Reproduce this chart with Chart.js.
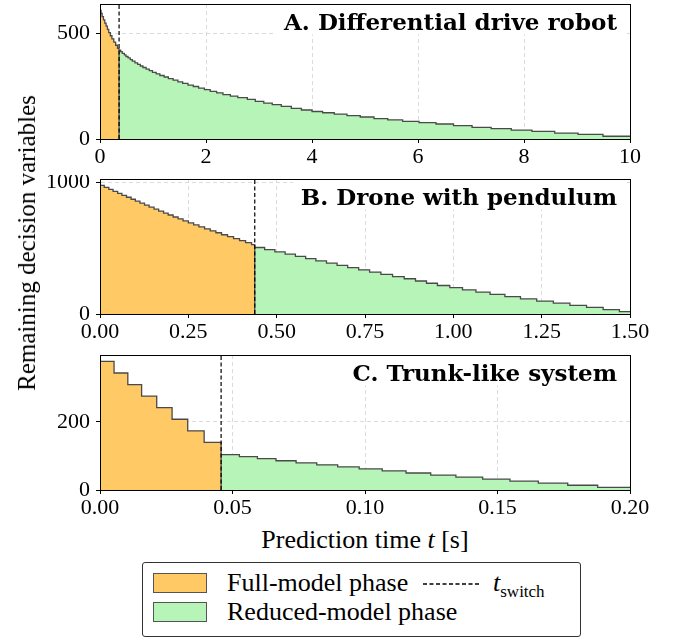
<!DOCTYPE html>
<html>
<head>
<meta charset="utf-8">
<script src="https://cdn.jsdelivr.net/npm/chart.js@4.4.0/dist/chart.umd.min.js"></script>
<style>
  body { margin: 0; background: #fff; }
  #page { position: relative; width: 677px; height: 644px; font-family: "Liberation Serif", serif; color: #000; }
  #page canvas { position: absolute; left: 0; }
  #ylabel { position: absolute; left: 27px; top: 243px; transform: translate(-50%, -50%) rotate(-90deg); white-space: nowrap; font-size: 25px; }
  #xlabel { position: absolute; left: 365px; top: 540px; transform: translate(-50%, -50%); white-space: nowrap; font-size: 26px; }
  #legend { position: absolute; left: 142px; top: 562px; width: 437px; height: 73px; border: 1px solid #333; border-radius: 3px; font-size: 26px; }
  .sw { position: absolute; left: 10px; width: 52px; height: 18px; border: 1px solid #555; }
  .lt { position: absolute; white-space: nowrap; line-height: 28px; }
</style>
</head>
<body>
<div id="page">
  <canvas id="chartA" width="677" height="170" style="top:0px"></canvas>
  <canvas id="chartB" width="677" height="170" style="top:175px"></canvas>
  <canvas id="chartC" width="677" height="170" style="top:351px"></canvas>
  <div id="ylabel">Remaining decision variables</div>
  <div id="xlabel">Prediction time <i>t</i> [s]</div>
  <div id="legend">
    <div class="sw" style="top:10px; background:#FFC966"></div>
    <div class="lt" style="left:84px; top:6px">Full-model phase</div>
    <svg style="position:absolute; left:280px; top:19px" width="56" height="4"><line x1="0" y1="2" x2="56" y2="2" stroke="#000" stroke-width="1.3" stroke-dasharray="4,2.5"/></svg>
    <div class="lt" style="left:350px; top:6px"><i>t</i><span style="font-size:17px; position:relative; top:6px">switch</span></div>
    <div class="sw" style="top:39px; background:#B7F4B7"></div>
    <div class="lt" style="left:84px; top:35px">Reduced-model phase</div>
  </div>
</div>
<script>
// A. Differential drive robot
const aTitle = 'A. Differential drive robot';
const aFullT = [0, 0.02, 0.04, 0.065, 0.09, 0.115, 0.14, 0.165, 0.195, 0.225, 0.26, 0.295, 0.33];
const aFullV = [608, 593, 578, 563, 548, 533, 518, 503, 488, 473, 458, 443, 428];
const aSwitch = 0.36;
const aRedT = [0.36, 0.39, 0.42, 0.46, 0.49, 0.53, 0.57, 0.61, 0.66, 0.71, 0.76, 0.81, 0.87, 0.93, 0.99,
    1.06, 1.13, 1.21, 1.29, 1.38, 1.47, 1.56, 1.66, 1.76, 1.86, 1.97, 2.08, 2.20, 2.32, 2.46,
    2.60, 2.78, 2.93, 3.09, 3.25, 3.42, 3.61, 3.80, 4.00, 4.20, 4.42, 4.66, 4.91, 5.17, 5.43,
    5.71, 6.02, 6.34, 6.67, 7.02, 7.38, 7.76, 8.15, 8.58, 9.02, 9.49];
const aRedV = [420, 413, 405, 398, 390, 383, 375, 368, 360, 353, 345, 338, 330, 323, 315,
    308, 300, 293, 285, 278, 270, 263, 255, 248, 240, 233, 225, 218, 210, 203,
    196, 187, 178, 170, 162, 154, 145, 137, 130, 124, 118, 110, 104, 96, 90,
    83, 77, 71, 63, 55, 49, 42, 36, 28, 22, 13];
const aXTicks = [0, 2, 4, 6, 8, 10];
const aXLabels = ['0', '2', '4', '6', '8', '10'];
const aYTicks = [0, 500];
const aYLabels = ['0', '500'];
const aYMax = 638;

// B. Drone with pendulum
const bTitle = 'B. Drone with pendulum';
const bFullT = [0, 0.012, 0.025, 0.037, 0.050, 0.062, 0.075, 0.088, 0.100, 0.113, 0.126, 0.139, 0.153, 0.166, 0.180,
    0.193, 0.207, 0.221, 0.235, 0.250, 0.265, 0.280, 0.296, 0.312, 0.328, 0.344, 0.361, 0.378, 0.395, 0.412, 0.429];
const bFullV = [978, 963, 948, 933, 918, 903, 888, 873, 858, 843, 828, 813, 798, 783, 768,
    753, 738, 723, 708, 693, 678, 663, 648, 633, 618, 603, 588, 573, 558, 543, 528];
const bSwitch = 0.438;
const bRedT = [0.438, 0.466, 0.495, 0.524, 0.553, 0.582, 0.611, 0.641, 0.671, 0.701, 0.732, 0.763, 0.795, 0.828, 0.861,
    0.893, 0.924, 0.955, 0.990, 1.026, 1.064, 1.104, 1.146, 1.190, 1.236, 1.283, 1.330, 1.377, 1.424, 1.470];
const bRedV = [506, 489, 472, 455, 438, 421, 404, 387, 370, 353, 336, 319, 302, 285, 268,
    251, 234, 217, 200, 183, 166, 149, 132, 115, 98, 82, 66, 50, 34, 18];
const bXTicks = [0, 0.25, 0.5, 0.75, 1.0, 1.25, 1.5];
const bXLabels = ['0.00', '0.25', '0.50', '0.75', '1.00', '1.25', '1.50'];
const bYTicks = [0, 1000];
const bYLabels = ['0', '1000'];
const bYMax = 1027;

// C. Trunk-like system
const cTitle = 'C. Trunk-like system';
const cFullT = [0, 0.0053, 0.0105, 0.0157, 0.0214, 0.0272, 0.0331, 0.0393];
const cFullV = [378, 344, 310, 276, 242, 208, 174, 140];
const cSwitch = 0.0457;
const cRedT = [0.0457, 0.0526, 0.0594, 0.0664, 0.0740, 0.0818, 0.0897, 0.0978, 0.1065, 0.1155, 0.1248,
    0.1343, 0.1444, 0.1547, 0.1654, 0.1765, 0.1878];
const cRedV = [104, 98, 92, 86, 80, 74, 68, 62, 56, 50, 44, 38, 32, 26, 20, 14, 8];
const cXTicks = [0, 0.05, 0.10, 0.15, 0.20];
const cXLabels = ['0.00', '0.05', '0.10', '0.15', '0.20'];
const cYTicks = [0, 200];
const cYLabels = ['0', '200'];
const cYMax = 397;

Chart.defaults.font.family = '"Liberation Serif", serif';
Chart.defaults.font.size = 22;
Chart.defaults.color = '#000';

// Draws the white title box and the full axes frame on top
const framePlugin = {
    id: 'frame',
    afterDraw(chart, args, opts) {
        const ctx = chart.ctx;
        const a = chart.chartArea;
        ctx.save();
        ctx.font = 'bold 23px "DejaVu Serif"';
        const w = ctx.measureText(opts.title).width;
        const right = a.right - 13;
        ctx.fillStyle = '#fff';
        ctx.fillRect(right - w - 8, a.top + 1, w + 18, 29.5);
        ctx.fillStyle = '#000';
        ctx.textAlign = 'right';
        ctx.textBaseline = 'alphabetic';
        ctx.fillText(opts.title, right, a.top + 25.5);
        ctx.strokeStyle = '#000';
        ctx.lineWidth = 1;
        ctx.strokeRect(a.left + 0.5, a.top + 0.5, a.right - a.left, a.bottom - a.top);
        ctx.restore();
    }
};

function makePanel(id, p) {
    const xMax = p.xTicks[p.xTicks.length - 1];
    const full = p.fullT.map((t, i) => ({x: t, y: p.fullV[i]}));
    full.push({x: p.tSwitch, y: p.fullV[p.fullV.length - 1]});
    full.push({x: p.tSwitch, y: 0});
    const reduced = p.redT.map((t, i) => ({x: t, y: p.redV[i]}));
    reduced.push({x: xMax, y: p.redV[p.redV.length - 1]});

    const ctx = document.getElementById(id).getContext('2d');
    new Chart(ctx, {
        type: 'line',
        data: {
            datasets: [{
                data: [{x: p.tSwitch, y: 0}, {x: p.tSwitch, y: p.yMax}],
                borderColor: '#000',
                borderWidth: 1.2,
                borderDash: [4, 2.5],
                fill: false
            }, {
                data: full,
                stepped: true,
                borderColor: '#4a4a4a',
                borderWidth: 1.3,
                backgroundColor: '#FFC966',
                fill: 'origin'
            }, {
                data: reduced,
                stepped: true,
                borderColor: '#4a4a4a',
                borderWidth: 1.3,
                backgroundColor: '#B7F4B7',
                fill: 'origin'
            }]
        },
        options: {
            responsive: false,
            animation: false,
            layout: { padding: { top: 4, right: 47, left: 0, bottom: 0 } },
            elements: { point: { radius: 0 } },
            plugins: {
                legend: { display: false },
                tooltip: { enabled: false },
                frame: { title: p.title }
            },
            scales: {
                x: {
                    type: 'linear',
                    min: 0,
                    max: xMax,
                    afterBuildTicks: s => { s.ticks = p.xTicks.map(v => ({value: v})); },
                    afterFit: s => { s.height = 31; s.paddingLeft = 0; s.paddingRight = 0; },
                    ticks: { callback: (v, i) => p.xLabels[i], autoSkip: false, maxRotation: 0, padding: 1 },
                    grid: { color: '#d2d2d2', lineWidth: 0.8, tickLength: 4, tickColor: '#000', tickWidth: 1 },
                    border: { color: '#000', width: 1, dash: [4, 3] }
                },
                y: {
                    type: 'linear',
                    min: 0,
                    max: p.yMax,
                    afterBuildTicks: s => { s.ticks = p.yTicks.map(v => ({value: v})); },
                    afterFit: s => { s.width = 100; s.paddingTop = 0; s.paddingBottom = 0; },
                    ticks: { callback: (v, i) => p.yLabels[i], autoSkip: false, padding: 6 },
                    grid: { color: '#d2d2d2', lineWidth: 0.8, tickLength: 4, tickColor: '#000', tickWidth: 1 },
                    border: { color: '#000', width: 1, dash: [4, 3] }
                }
            }
        },
        plugins: [framePlugin]
    });
}

makePanel('chartA', {title: aTitle, fullT: aFullT, fullV: aFullV, tSwitch: aSwitch, redT: aRedT, redV: aRedV,
    xTicks: aXTicks, xLabels: aXLabels, yTicks: aYTicks, yLabels: aYLabels, yMax: aYMax});
makePanel('chartB', {title: bTitle, fullT: bFullT, fullV: bFullV, tSwitch: bSwitch, redT: bRedT, redV: bRedV,
    xTicks: bXTicks, xLabels: bXLabels, yTicks: bYTicks, yLabels: bYLabels, yMax: bYMax});
makePanel('chartC', {title: cTitle, fullT: cFullT, fullV: cFullV, tSwitch: cSwitch, redT: cRedT, redV: cRedV,
    xTicks: cXTicks, xLabels: cXLabels, yTicks: cYTicks, yLabels: cYLabels, yMax: cYMax});
</script>
</body>
</html>
